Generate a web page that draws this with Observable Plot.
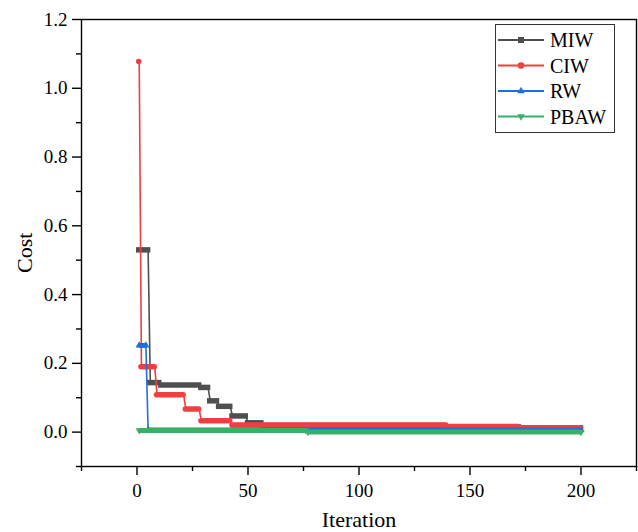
<!DOCTYPE html>
<html>
<head>
<meta charset="utf-8">
<script src="https://cdn.jsdelivr.net/npm/d3@7"></script>
<script src="https://cdn.jsdelivr.net/npm/@observablehq/plot@0.6"></script>
<style>
  html, body { margin: 0; padding: 0; background: #fff; }
  svg { display: block; }
  svg text { font-family: 'Liberation Serif', 'Times New Roman', serif !important; }
</style>
</head>
<body>
<div id="chart"></div>
<script>
// ---- Data (step runs: iteration where each level starts, and its cost) ----
const lastIteration = 200;

const miwStart = [1, 6, 11, 29, 33, 37, 43, 50, 57, 140, 173];
const miwCost  = [0.53, 0.144, 0.137, 0.130, 0.091, 0.075, 0.047, 0.027, 0.019, 0.015, 0.012];

const ciwStart = [1, 2, 9, 22, 29, 43, 140, 173];
const ciwCost  = [1.078, 0.19, 0.109, 0.067, 0.033, 0.021, 0.016, 0.013];

const rwStart = [1, 5];
const rwCost  = [0.252, 0.006];

const pbawStart = [1, 77];
const pbawCost  = [0.005, 0.0];

const seriesNames = ["MIW", "CIW", "RW", "PBAW"];
const seriesColors = ["#4f4f4f", "#ef3f3f", "#1f6fe0", "#3aaf6b"];

const xMajor = [0, 50, 100, 150, 200];
const xMinor = [-25, 25, 75, 125, 175, 225];
const yMajor = [0, 0.2, 0.4, 0.6, 0.8, 1.0, 1.2];
const yMinor = [-0.1, 0.1, 0.3, 0.5, 0.7, 0.9, 1.1];

// ---- Build runs / points ----
function runs(starts, costs) {
  return starts.map((s, i) => ({
    x1: s,
    x2: i < starts.length - 1 ? starts[i + 1] - 1 : lastIteration,
    y: costs[i]
  }));
}
function pts(r) {
  return r.flatMap(d => [{x: d.x1, y: d.y}, {x: d.x2, y: d.y}]);
}

const miwRuns = runs(miwStart, miwCost);
const ciwRuns = runs(ciwStart, ciwCost);
const rwRuns = runs(rwStart, rwCost);
const pbawRuns = runs(pbawStart, pbawCost);

const MW = 5.5;

function seriesMarks(r, color, kind) {
  const p = pts(r);
  const marks = [Plot.line(p, {x: "x", y: "y", stroke: color, strokeWidth: 1.6})];
  if (kind === "square" || kind === "round") {
    marks.push(Plot.ruleY(r, {y: "y", x1: "x1", x2: "x2", stroke: color, strokeWidth: MW, strokeLinecap: kind}));
  } else {
    marks.push(Plot.ruleY(r, {y: "y", x1: "x1", x2: "x2", stroke: color, strokeWidth: MW - 0.5}));
    marks.push(Plot.dot(p, {x: "x", y: "y", symbol: "triangle", r: 2.7, fill: color, stroke: "none", rotate: kind === "down" ? 180 : 0}));
  }
  return marks;
}

const font = "'Liberation Serif', 'Times New Roman', serif";

const chart = Plot.plot({
  width: 638,
  height: 532,
  marginLeft: 81,
  marginRight: 2,
  marginTop: 19,
  marginBottom: 66,
  style: {fontFamily: font, background: "#fff", color: "#000"},
  x: {domain: [-25, 225]},
  y: {domain: [-0.1, 1.2]},
  marks: [
    ...seriesMarks(miwRuns, seriesColors[0], "square"),
    ...seriesMarks(ciwRuns, seriesColors[1], "round"),
    ...seriesMarks(rwRuns, seriesColors[2], "up"),
    ...seriesMarks(pbawRuns, seriesColors[3], "down"),
    Plot.frame({stroke: "#000", strokeWidth: 1.4}),
    Plot.axisX(xMajor, {tickSize: 9, tickPadding: 8, fontSize: 19, fontFamily: font, label: null, stroke: "#000", strokeWidth: 1.4, tickFormat: d3.format("d")}),
    Plot.axisX(xMinor, {tickSize: 5, label: null, stroke: "#000", strokeWidth: 1.4, tickFormat: () => ""}),
    Plot.axisY(yMajor, {tickSize: 9, tickPadding: 5, fontSize: 19, fontFamily: font, label: null, stroke: "#000", strokeWidth: 1.4, tickFormat: d3.format(".1f")}),
    Plot.axisY(yMinor, {tickSize: 5, label: null, stroke: "#000", strokeWidth: 1.4, tickFormat: () => ""}),
    Plot.text(["Iteration"], {frameAnchor: "bottom", dy: 60, fontSize: 22, fontFamily: font, fill: "#000"}),
    Plot.text(["Cost"], {frameAnchor: "left", dx: -57, dy: 30, rotate: -90, fontSize: 22, fontFamily: font, fill: "#000"})
  ]
});

document.getElementById("chart").appendChild(chart);

// ---- Legend ----
const svg = d3.select(chart);
const lg = svg.append("g").attr("font-family", font).attr("text-anchor", "start");
lg.append("rect").attr("x", 495.5).attr("y", 24.5).attr("width", 119).attr("height", 108)
  .attr("fill", "#fff").attr("stroke", "#333").attr("stroke-width", 1);
const symbols = ["square", "circle", "up", "down"];
seriesNames.forEach((name, i) => {
  const cy = 40 + i * 25.5;
  const c = seriesColors[i];
  lg.append("line").attr("x1", 498).attr("x2", 544).attr("y1", cy).attr("y2", cy)
    .attr("stroke", c).attr("stroke-width", 2);
  if (symbols[i] === "square") {
    lg.append("rect").attr("x", 521 - 3).attr("y", cy - 3).attr("width", 6).attr("height", 6).attr("fill", c);
  } else if (symbols[i] === "circle") {
    lg.append("circle").attr("cx", 521).attr("cy", cy).attr("r", 3.3).attr("fill", c);
  } else {
    const path = d3.symbol(d3.symbolTriangle, 24)();
    lg.append("path").attr("d", path)
      .attr("transform", `translate(521,${cy}) rotate(${symbols[i] === "down" ? 180 : 0})`)
      .attr("fill", c);
  }
  lg.append("text").attr("x", 550).attr("y", cy + 7).attr("font-size", 20)
    .attr("text-anchor", "start").attr("fill", "#000").text(name);
});
</script>
</body>
</html>
